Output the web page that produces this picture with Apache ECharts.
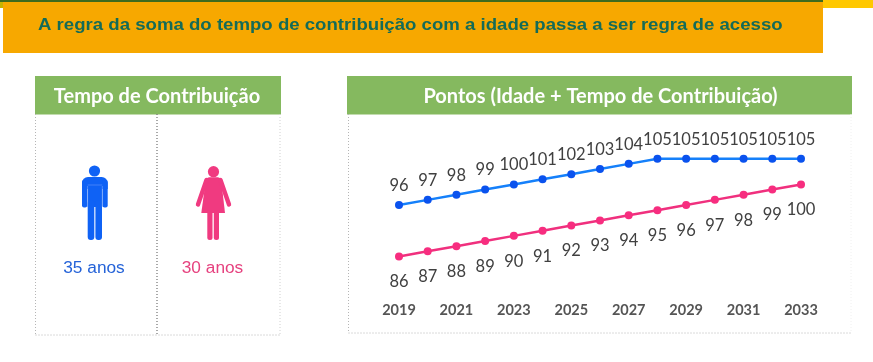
<!DOCTYPE html>
<html><head><meta charset="utf-8">
<style>html,body{margin:0;padding:0;background:#fff}#c{width:873px;height:362px}</style>
<script src="https://cdn.jsdelivr.net/npm/echarts@6/dist/echarts.min.js"></script>
</head><body><div id="c"></div>
<script>
const years = ['2019','2020','2021','2022','2023','2024','2025','2026','2027','2028','2029','2030','2031','2032','2033'];
const homens = [96,97,98,99,100,101,102,103,104,105,105,105,105,105,105];
const mulheres = [86,87,88,89,90,91,92,93,94,95,96,97,98,99,100];
const tituloTexto = 'A regra da soma do tempo de contribuição com a idade passa a ser regra de acesso';
const painelEsq = 'Tempo de Contribuição';
const painelDir = 'Pontos (Idade + Tempo de Contribuição)';
const anosHomem = '35 anos';
const anosMulher = '30 anos';

const BLUE='#0F62F5', PINK='#F03A80', GREEN='#85B95F';
const rect=(x,y,w,h,fill,r)=>({type:'rect',silent:true,shape:{x,y,width:w,height:h,r:r||0},style:{fill}});
const line=(x1,y1,x2,y2,stroke,w,dash,cap)=>({type:'line',silent:true,shape:{x1,y1,x2,y2},style:{stroke,lineWidth:w,lineDash:dash||null,lineCap:cap||'butt'}});
const text=(x,y,t,font,fill,align,sx)=>({type:'text',silent:true,x,y,scaleX:sx||1,style:{x:0,y:0,text:t,font,fill,textAlign:align||'center',textVerticalAlign:'middle'}});
const poly=(pts,fill)=>({type:'polygon',silent:true,shape:{points:pts},style:{fill}});
const circle=(cx,cy,r,fill)=>({type:'circle',silent:true,shape:{cx,cy,r},style:{fill}});
const dots=[1,2];

const gfx=[
  rect(0,0,3,8,'#C9B400'),
  rect(823,0,50,8,'#FFC800'),
  rect(3,2,820,51,'#F7A800'),
  rect(0,0,823,2,'#3F6B1E'),
  text(38,25.5,tituloTexto,'bold 17.4px "Liberation Sans"','#156B57','left',1.07),

  rect(35,76,246,38.5,GREEN),
  rect(347,76,505,38.5,GREEN),
  text(157,96.5,painelEsq,'bold 20px Lato','#fff'),
  text(600.5,96.5,painelDir,'bold 20px Lato','#fff'),

  line(35.5,114,35.5,335,'#b5b5b5',1,dots),
  line(280,114,280,335,'#d0d0d0',1,dots),
  line(35.5,335,280,335,'#b5b5b5',1,dots),
  line(157,114,157,335,'#707070',1.2,dots),
  line(348.5,114,348.5,333,'#b5b5b5',1,dots),
  line(348.5,333,851,333,'#b5b5b5',1,dots),
  line(851,114,851,333,'#f0f0f0',1,dots),

  // homem
  circle(94.5,171,5.6,BLUE),
  rect(82,177,25.7,12,BLUE,[6,6,0,0]),
  rect(82,180,5.2,27.5,BLUE,2),
  rect(102.5,180,5.2,27.5,BLUE,2),
  rect(87.6,180,14.6,27,BLUE),
  rect(87.7,200,6.6,40,BLUE,3),
  rect(95.4,200,6.6,40,BLUE,3),
  line(87.6,186,87.6,207,'#8FB4FF',.5),
  line(102.3,186,102.3,207,'#8FB4FF',.5),
  line(87.6,185,102.3,185,'#8FB4FF',.4),
  text(94,268,anosHomem,'17.3px "Liberation Sans"','#2563D8'),

  // mulher
  circle(213.5,171.7,5.6,PINK),
  poly([[206,178.5],[209,177.3],[218,177.3],[221,178.5],[225,213],[201.3,213]],PINK),
  line(206.5,180,198,204.5,PINK,4.4,null,'round'),
  line(220.5,180,229,204.5,PINK,4.4,null,'round'),
  rect(207.3,210,5.2,30,PINK,2.5),
  rect(213.8,210,5.2,30,PINK,2.5),
  text(212.5,268,anosMulher,'17.3px "Liberation Sans"','#E6427F')
];

const lbl=(pos,dist)=>({show:true,position:pos,distance:dist,color:'#404040',fontFamily:'Lato',fontSize:16.5});
const chart=echarts.init(document.getElementById('c'),null,{renderer:'canvas'});
chart.setOption({
  animation:false,
  backgroundColor:'#fff',
  graphic:{elements:gfx},
  grid:{left:399,width:402,top:133,height:154.3},
  xAxis:{type:'category',data:years,boundaryGap:false,
    axisLine:{show:false},axisTick:{show:false},splitLine:{show:false},
    axisLabel:{interval:1,margin:16,color:'#555555',fontFamily:'Lato',fontWeight:'bold',fontSize:14.5,hideOverlap:false}},
  yAxis:{type:'value',min:80,max:110,show:false},
  series:[
    {name:'Homens',type:'line',data:homens,symbol:'circle',symbolSize:8,z:3,
      lineStyle:{color:'#1580FA',width:2.5},itemStyle:{color:'#0A52EE'},label:lbl('top',7)},
    {name:'Mulheres',type:'line',data:mulheres,symbol:'circle',symbolSize:8,z:3,
      lineStyle:{color:'#F0307E',width:2.5},itemStyle:{color:'#F72D7F'},label:lbl('bottom',13)}
  ]
});
</script></body></html>
